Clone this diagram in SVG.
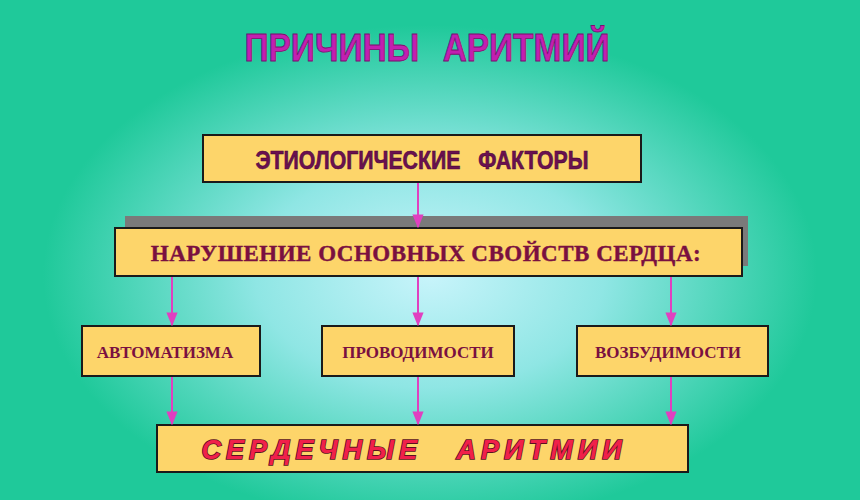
<svg xmlns="http://www.w3.org/2000/svg" width="860" height="500" viewBox="0 0 860 500">
<defs>
<radialGradient id="bg" cx="0.5" cy="0.55" r="0.5" gradientTransform="translate(0.05,0) scale(0.9,1)">
<stop offset="0" stop-color="#c8f4fb"/>
<stop offset="0.45" stop-color="#8fe6e4"/>
<stop offset="1" stop-color="#1fc99a"/>
</radialGradient>
<marker id="ar" viewBox="0 0 10 10" refX="9" refY="5" markerWidth="7" markerHeight="7" orient="auto"><path d="M0,1 L10,5 L0,9 z" fill="#e040c0"/></marker>
</defs>
<style>
.box{fill:#fdd56a;stroke:#1a1a1a;stroke-width:2}
.ser{font-family:"Liberation Serif",serif;font-weight:bold;fill:#7a1040;text-anchor:middle}
.con line{stroke:#e040c0;stroke-width:2;marker-end:url(#ar)}
</style>
<rect width="860" height="500" fill="#1fc99a"/>
<rect width="860" height="500" fill="url(#bg)"/>
<text x="427" y="61" font-family="Liberation Sans,sans-serif" font-weight="bold" font-size="38" fill="#c21fb0" stroke="#7a1070" stroke-width="0.8" text-anchor="middle" word-spacing="16" transform="translate(427,0) scale(0.88,1) translate(-427,0)">ПРИЧИНЫ АРИТМИЙ</text>
<g id="n1"><rect class="box" x="203" y="135" width="438" height="47"/>
<text x="422" y="169" font-family="Liberation Sans,sans-serif" font-weight="bold" font-size="25" fill="#6a1050" stroke="#4a0838" stroke-width="0.6" text-anchor="middle" word-spacing="14" transform="translate(422,0) scale(0.85,1) translate(-422,0)">ЭТИОЛОГИЧЕСКИЕ ФАКТОРЫ</text></g>
<rect x="125" y="216" width="623" height="50" fill="#7a7a7a"/>
<g id="n2"><rect class="box" x="115" y="228" width="627" height="48"/>
<text class="ser" x="426" y="261" font-size="23" font-weight="normal" stroke="#7a1040" stroke-width="0.4" letter-spacing="0.5">НАРУШЕНИЕ ОСНОВНЫХ СВОЙСТВ СЕРДЦА:</text></g>
<g id="n3"><rect class="box" x="82" y="326" width="178" height="50"/><text class="ser" x="165" y="358" font-size="17">АВТОМАТИЗМА</text></g>
<g id="n4"><rect class="box" x="322" y="326" width="192" height="50"/><text class="ser" x="418" y="358" font-size="17">ПРОВОДИМОСТИ</text></g>
<g id="n5"><rect class="box" x="577" y="326" width="191" height="50"/><text class="ser" x="668" y="358" font-size="17">ВОЗБУДИМОСТИ</text></g>
<g id="n6"><rect class="box" x="157" y="425" width="531" height="47"/>
<text x="414" y="459" font-family="Liberation Sans,sans-serif" font-weight="bold" font-style="italic" font-size="27" fill="#f0204a" stroke="#5a1020" stroke-width="1.6" paint-order="stroke" text-anchor="middle" letter-spacing="5" word-spacing="22">СЕРДЕЧНЫЕ АРИТМИИ</text></g>
<g class="con">
<line x1="418" y1="183" x2="418" y2="227"/>
<line x1="172" y1="277" x2="172" y2="325"/>
<line x1="418" y1="277" x2="418" y2="325"/>
<line x1="671" y1="277" x2="671" y2="325"/>
<line x1="172" y1="377" x2="172" y2="424"/>
<line x1="418" y1="377" x2="418" y2="424"/>
<line x1="671" y1="377" x2="671" y2="424"/>
</g>
</svg>
